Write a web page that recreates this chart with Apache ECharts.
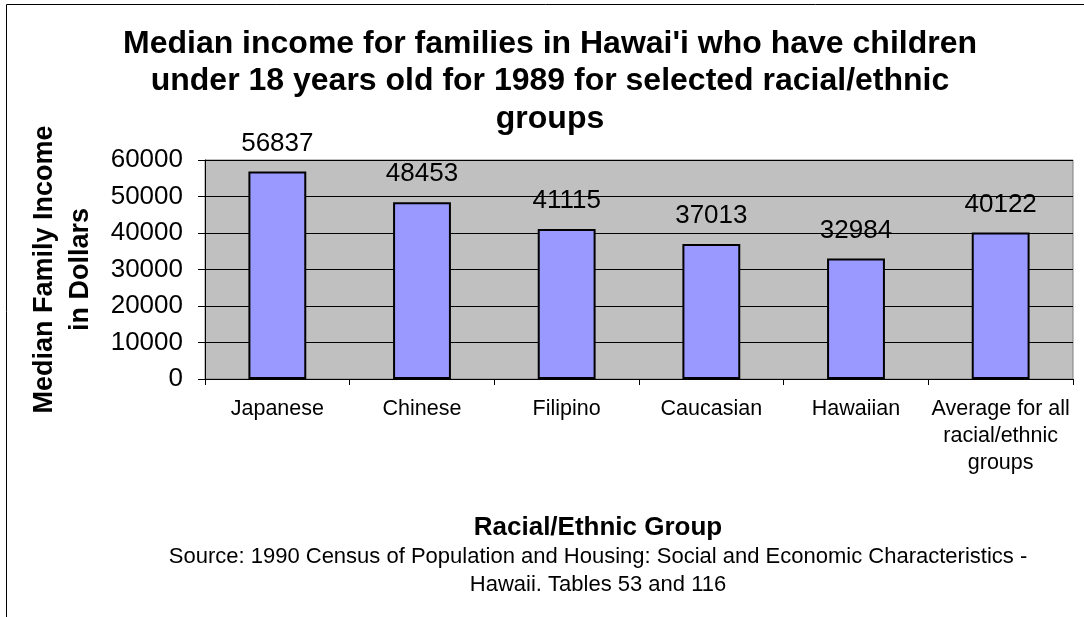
<!DOCTYPE html>
<html>
<head>
<meta charset="utf-8">
<title>Median family income, Hawai'i 1989</title>
<script src="https://cdn.jsdelivr.net/npm/echarts@6/dist/echarts.min.js"></script>
<style>
  html, body { margin: 0; padding: 0; background: #ffffff; }
  #chart { width: 1084px; height: 617px; }
</style>
</head>
<body>
<div id="chart"></div>
<script>
// Racial/ethnic groups along the category axis
const groups = [
  'Japanese',
  'Chinese',
  'Filipino',
  'Caucasian',
  'Hawaiian',
  'Average for all\nracial/ethnic\ngroups'
];

// Median family income (dollars), families with children under 18, 1989
const medianIncome = [56837, 48453, 41115, 37013, 32984, 40122];

// Value axis ticks
const yTicks = [0, 10000, 20000, 30000, 40000, 50000, 60000];

const FONT = '"Liberation Sans", Arial, Helvetica, sans-serif';

const chart = echarts.init(document.getElementById('chart'), null, { renderer: 'canvas' });

chart.setOption({
  backgroundColor: '#ffffff',
  animation: false,
  title: [
    {
      text: "Median income for families in Hawai'i who have children\nunder 18 years old for 1989 for selected racial/ethnic\ngroups",
      left: 550,
      top: 25,
      textAlign: 'center',
      padding: 0,
      textStyle: {
        fontFamily: FONT,
        fontSize: 32,
        fontWeight: 'bold',
        lineHeight: 37.5,
        color: '#000000'
      }
    },
    {
      text: 'Racial/Ethnic Group',
      left: 598,
      top: 515,
      textAlign: 'center',
      padding: 0,
      textStyle: {
        fontFamily: FONT,
        fontSize: 26,
        fontWeight: 'bold',
        lineHeight: 26,
        color: '#000000'
      }
    },
    {
      text: 'Source: 1990 Census of Population and Housing: Social and Economic Characteristics -\nHawaii. Tables 53 and 116',
      left: 598,
      top: 543,
      textAlign: 'center',
      padding: 0,
      textStyle: {
        fontFamily: FONT,
        fontSize: 22,
        fontWeight: 'normal',
        lineHeight: 28,
        color: '#000000'
      }
    }
  ],
  graphic: [
    {
      // outer chart frame
      type: 'rect',
      silent: true,
      shape: { x: 6.5, y: 4.5, width: 1200, height: 800 },
      style: { fill: 'none', stroke: '#000000', lineWidth: 1 }
    }
  ],
  grid: {
    left: 205,
    top: 160,
    right: 11,
    bottom: 238,
    show: true,
    backgroundColor: '#C0C0C0',
    borderColor: '#808080',
    borderWidth: 1
  },
  xAxis: {
    type: 'category',
    data: groups,
    boundaryGap: true,
    axisLine: { show: true, lineStyle: { color: '#000000', width: 1 } },
    axisTick: { show: true, inside: false, length: 6, alignWithLabel: false, lineStyle: { color: '#000000' } },
    axisLabel: {
      margin: 17,
      interval: 0,
      fontFamily: FONT,
      fontSize: 21.5,
      lineHeight: 27,
      color: '#000000',
      align: 'center'
    },
    splitLine: { show: false }
  },
  yAxis: {
    type: 'value',
    min: yTicks[0],
    max: yTicks[yTicks.length - 1],
    interval: yTicks[1] - yTicks[0],
    name: 'Median Family Income\nin Dollars',
    nameLocation: 'middle',
    nameRotate: 90,
    nameGap: 106,
    nameTextStyle: {
      fontFamily: FONT,
      fontSize: 27,
      fontWeight: 'bold',
      lineHeight: 36,
      color: '#000000',
      align: 'center'
    },
    axisLine: { show: true, lineStyle: { color: '#000000', width: 1 } },
    axisTick: { show: true, inside: false, length: 7, lineStyle: { color: '#000000' } },
    axisLabel: {
      margin: 22,
      fontFamily: FONT,
      fontSize: 26,
      color: '#000000',
      formatter: function (v) { return String(v); }
    },
    splitLine: { show: true, lineStyle: { color: '#000000', width: 1 } }
  },
  series: [
    {
      type: 'bar',
      data: medianIncome,
      barWidth: '40%',
      itemStyle: {
        color: '#9999FF',
        borderColor: '#000000',
        borderWidth: 2
      },
      label: {
        show: true,
        position: 'top',
        distance: 15,
        fontFamily: FONT,
        fontSize: 26,
        color: '#000000'
      }
    }
  ]
});
</script>
</body>
</html>
